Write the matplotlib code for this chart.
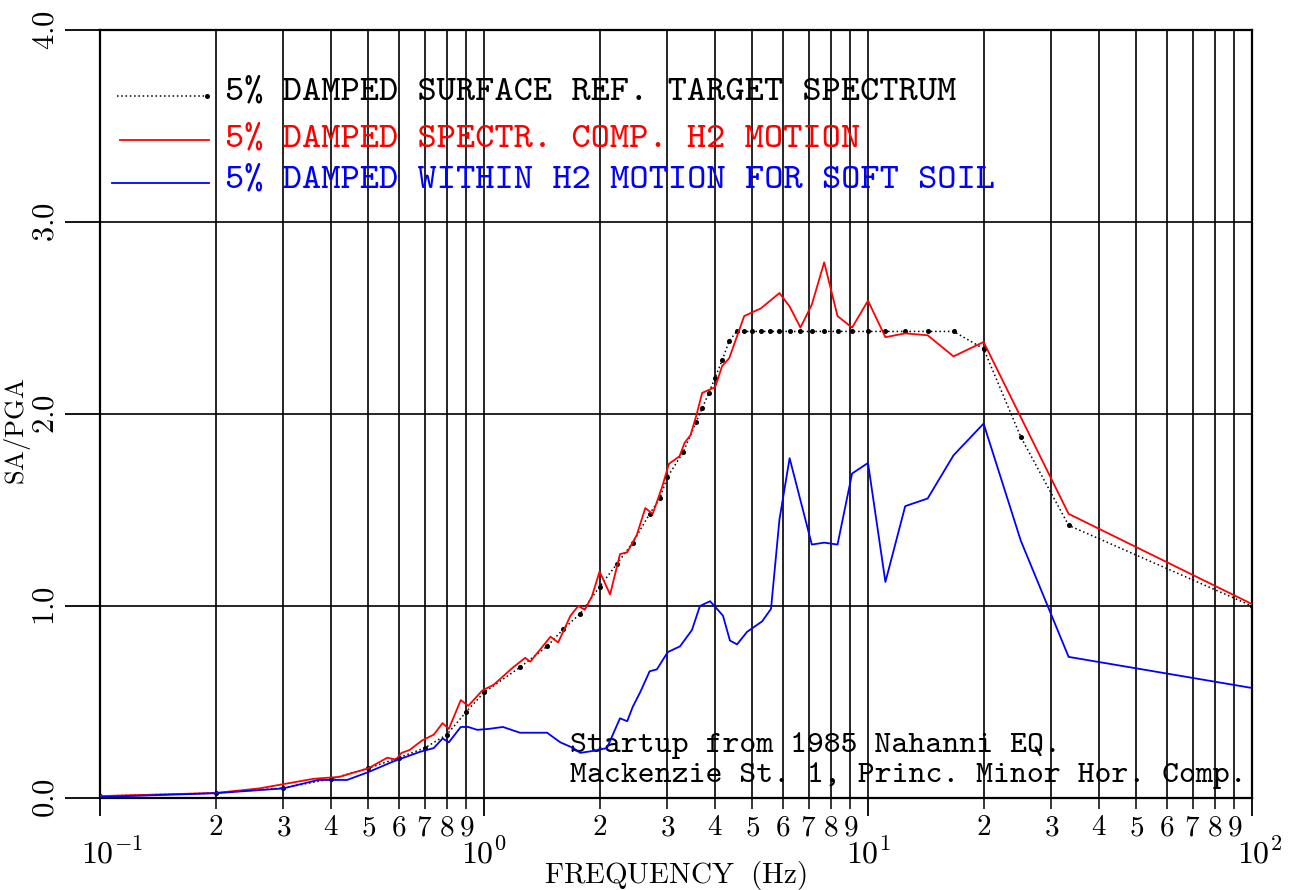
import matplotlib
matplotlib.use("Agg")
import matplotlib.pyplot as plt
from matplotlib.ticker import FixedLocator, FixedFormatter
from matplotlib.transforms import ScaledTranslation

plt.rcParams["mathtext.fontset"] = "cm"

# 5% damped surface reference target spectrum
target_freq = [0.10, 0.20, 0.30, 0.40, 0.50, 0.60, 0.70, 0.80, 0.90, 1.00,
               1.24, 1.46, 1.61, 1.78, 2.00, 2.22, 2.44, 2.70, 2.87, 3.00,
               3.30, 3.57, 3.70, 3.85, 4.00, 4.17, 4.35, 4.55,
               4.76, 5.00, 5.26, 5.56, 5.88, 6.25, 6.67, 7.14, 7.69, 8.33,
               9.09, 10.0, 11.1, 12.5, 14.3, 16.7,
               20.0, 25.0, 33.3, 100.0]
target_sa = [0.01, 0.026, 0.052, 0.10, 0.155, 0.21, 0.26, 0.33, 0.45, 0.55,
             0.68, 0.79, 0.88, 0.96, 1.10, 1.22, 1.33, 1.48, 1.56, 1.67,
             1.80, 1.96, 2.03, 2.11, 2.19, 2.28, 2.38, 2.43,
             2.43, 2.43, 2.43, 2.43, 2.43, 2.43, 2.43, 2.43, 2.43, 2.43,
             2.43, 2.43, 2.43, 2.43, 2.43, 2.43,
             2.34, 1.88, 1.42, 1.00]

# spectrum-compatible H2 motion
h2_freq = [0.10, 0.20, 0.26, 0.36, 0.42, 0.50, 0.56, 0.59, 0.61, 0.64,
           0.69, 0.74, 0.78, 0.81, 0.87, 0.91, 0.99, 1.06, 1.19, 1.28,
           1.32, 1.49, 1.56, 1.68, 1.76, 1.83, 1.91, 2.00, 2.13, 2.26,
           2.36, 2.50, 2.63, 2.75, 2.91, 3.03, 3.23, 3.33, 3.45, 3.57,
           3.70, 4.00, 4.17, 4.35, 4.76, 5.00, 5.26, 5.88, 6.25, 6.67,
           7.14, 7.69, 8.33, 9.09, 10.0, 11.1, 12.5, 14.3, 16.7, 20.0,
           33.3, 100.0]
h2_sa = [0.01, 0.026, 0.05, 0.10, 0.11, 0.155, 0.21, 0.20, 0.235, 0.25,
         0.30, 0.33, 0.39, 0.36, 0.51, 0.48, 0.56, 0.59, 0.68, 0.73,
         0.71, 0.84, 0.81, 0.95, 1.00, 0.98, 1.05, 1.18, 1.06, 1.27,
         1.28, 1.37, 1.51, 1.48, 1.62, 1.74, 1.78, 1.85, 1.89, 1.99,
         2.11, 2.14, 2.25, 2.29, 2.51, 2.53, 2.55, 2.63, 2.56, 2.45,
         2.57, 2.79, 2.51, 2.45, 2.59, 2.40, 2.42, 2.41, 2.30, 2.375,
         1.48, 1.01]

# within H2 motion for soft soil
soil_freq = [0.10, 0.20, 0.30, 0.37, 0.44, 0.50, 0.58, 0.68, 0.74, 0.78,
             0.81, 0.87, 0.91, 0.96, 1.03, 1.12, 1.24, 1.46, 1.58, 1.71,
             1.78, 1.92, 2.09, 2.26, 2.36, 2.44, 2.55, 2.70, 2.82, 3.01,
             3.24, 3.48, 3.65, 3.88, 4.19, 4.37, 4.56, 4.84, 5.30, 5.59,
             5.88, 6.25, 7.14, 7.69, 8.33, 9.09, 10.0, 11.1, 12.5, 14.3,
             16.7, 20.0, 25.0, 33.3, 100.0]
soil_sa = [0.005, 0.025, 0.05, 0.094, 0.094, 0.135, 0.19, 0.24, 0.26, 0.31,
           0.29, 0.37, 0.37, 0.355, 0.36, 0.37, 0.34, 0.34, 0.29, 0.26,
           0.235, 0.245, 0.26, 0.415, 0.40, 0.475, 0.55, 0.66, 0.67, 0.76,
           0.79, 0.875, 1.00, 1.025, 0.95, 0.82, 0.80, 0.865, 0.92, 0.985,
           1.45, 1.77, 1.32, 1.33, 1.32, 1.69, 1.745, 1.125, 1.52, 1.56,
           1.785, 1.95, 1.34, 0.735, 0.573]

decade_ticks = [0.1, 1.0, 10.0, 100.0]
decade_labels = [r"$10^{-1}$", r"$10^{0}$", r"$10^{1}$", r"$10^{2}$"]
minor_digits = [2, 3, 4, 5, 6, 7, 8, 9]
y_ticks = [0.0, 1.0, 2.0, 3.0, 4.0]
y_labels = [r"$\mathbf{0.0}$", r"$\mathbf{1.0}$", r"$\mathbf{2.0}$",
            r"$\mathbf{3.0}$", r"$\mathbf{4.0}$"]

legend_labels = ["5% DAMPED SURFACE REF. TARGET SPECTRUM",
                 "5% DAMPED SPECTR. COMP. H2 MOTION",
                 "5% DAMPED WITHIN H2 MOTION FOR SOFT SOIL"]
note_lines = ["Startup from 1985 Nahanni EQ.",
              "Mackenzie St. 1, Princ. Minor Hor. Comp."]

W, H = 1301, 890
fig = plt.figure(figsize=(W / 100, H / 100), dpi=100)
ax = fig.add_axes([100 / W, 92 / H, 1152 / W, 768 / H])

ax.set_xscale("log")
ax.set_xlim(0.1, 100)
ax.set_ylim(0, 4)

# curves
ax.plot(target_freq, target_sa, color="black", lw=1.1,
        linestyle=(0, (1, 1.8)), zorder=3)
ax.plot(target_freq, target_sa, color="black", lw=0, marker="o",
        markersize=2.6, zorder=3)
ax.plot(h2_freq, h2_sa, color="#ff0000", lw=1.3, zorder=4)
ax.plot(soil_freq, soil_sa, color="#0000ff", lw=1.3, zorder=4)

# ticks and grid
minor_ticks = [d * t for t in decade_ticks[:-1] for d in minor_digits]
minor_labels = [r"$%d$" % d for t in decade_ticks[:-1] for d in minor_digits]
ax.xaxis.set_major_locator(FixedLocator(decade_ticks))
ax.xaxis.set_major_formatter(FixedFormatter(decade_labels))
ax.xaxis.set_minor_locator(FixedLocator(minor_ticks))
ax.xaxis.set_minor_formatter(FixedFormatter(minor_labels))
ax.set_yticks(y_ticks)
ax.set_yticklabels(y_labels, rotation=90, va="center")

ax.tick_params(axis="x", which="major", direction="out", length=13,
               width=1.3, pad=16, labelsize=23, colors="black")
ax.tick_params(axis="x", which="minor", direction="out", length=8,
               width=1.1, pad=3, labelsize=21)
ax.tick_params(axis="y", which="major", direction="out", length=25,
               width=1.3, pad=4, labelsize=22)
ax.tick_params(top=False, right=False)

# nudge the first and last decade labels to the right
for lab, dx in zip(ax.get_xticklabels(), [12, 0, 0, 8]):
    lab.set_transform(lab.get_transform()
                      + ScaledTranslation(dx / 100, 0, fig.dpi_scale_trans))

ax.grid(True, which="both", axis="x", color="black", lw=1.2)
ax.grid(True, which="major", axis="y", color="black", lw=1.2)
ax.set_axisbelow(True)
for sp in ax.spines.values():
    sp.set_linewidth(1.6)
    sp.set_color("black")

ax.set_xlabel(r"$\mathrm{FREQUENCY\ \ (Hz)}$", fontsize=21)
ax.xaxis.set_label_coords(0.5, -0.079)
ax.set_ylabel(r"$\mathrm{SA/PGA}$", fontsize=19)
ax.yaxis.set_label_coords(-0.058, 0.477)

# legend entries
mono = "cmtt10"
ax.plot([0.0148, 0.093], [0.914, 0.914], transform=ax.transAxes,
        color="black", lw=1.1, linestyle=(0, (1, 1.8)))
ax.plot([0.093], [0.914], transform=ax.transAxes, color="black",
        marker="o", markersize=2.6, lw=0)
ax.plot([0.017, 0.095], [0.857, 0.857], transform=ax.transAxes,
        color="#ff0000", lw=1.3)
ax.plot([0.010, 0.095], [0.801, 0.801], transform=ax.transAxes,
        color="#0000ff", lw=1.3)
for lab, yy, col in zip(legend_labels, [0.918, 0.858, 0.804],
                        ["black", "#ff0000", "#0000ff"]):
    ax.text(0.1085, yy, lab, transform=ax.transAxes, color=col,
            family=mono, fontsize=26.4, va="center", ha="left")

# event note
for line, yy in zip(note_lines, [0.068, 0.029]):
    ax.text(0.408, yy, line, transform=ax.transAxes, color="black",
            family=mono, fontsize=23.2, va="center", ha="left")

fig.savefig("out.png", dpi=100)
